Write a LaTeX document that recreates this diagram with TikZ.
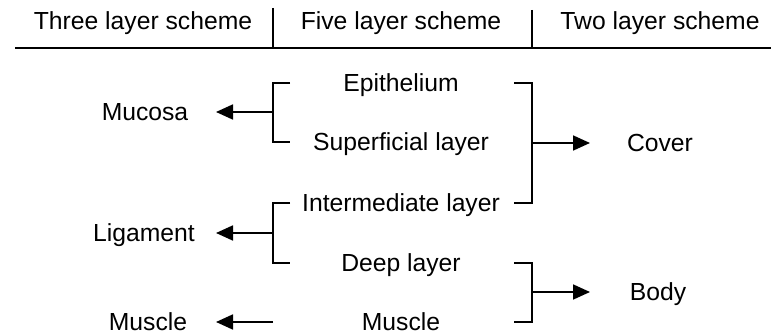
\documentclass[tikz,border=0pt]{standalone}
\usepackage{fontspec}
\setmainfont{Liberation Sans}
\usetikzlibrary{arrows.meta}
\begin{document}
\begin{tikzpicture}[x=1pt,y=-1pt,
  lbl/.style={inner sep=0pt,text height=17.5pt,text depth=0pt,font=\fontsize{24.7}{28}\selectfont},
  brk/.style={line width=1.8pt},
  arr/.style={line width=1.8pt,-{Triangle[length=17pt,width=15pt]}},
  rule/.style={line width=2pt},
  sep/.style={line width=1.3pt}]
\useasboundingbox (0,0) rectangle (771,336);
% headers
\node[lbl] (h3) at (143,21) {Three layer scheme};
\node[lbl] (h5) at (401,21) {Five layer scheme};
\node[lbl] (h2) at (660,21) {Two layer scheme};
\coordinate (r0) at (15,48);
\coordinate (r1) at (771,48);
\coordinate (s1t) at (273,8);
\coordinate (s2t) at (532,10);
\draw[rule] (r0) -- (r1);
\draw[sep] (s1t) -- (s1t |- r0);
\draw[sep] (s2t) -- (s2t |- r0);
% middle column
\node[lbl] (epi) at (401,83) {Epithelium};
\node[lbl] (sup) at (401,142) {Superficial layer};
\node[lbl] (int) at (401,203) {Intermediate layer};
\node[lbl] (deep) at (401,263) {Deep layer};
\node[lbl] (mus5) at (401,322) {Muscle};
% left column
\node[lbl] (muc) at (145,112) {Mucosa};
\node[lbl] (lig) at (144,233) {Ligament};
\node[lbl] (mus3) at (148,322) {Muscle};
% right column
\node[lbl] (cov) at (660,143) {Cover};
\node[lbl] (body) at (658,292) {Body};
% bracket guide coordinates
\coordinate (L) at (273,0);
\coordinate (Lt) at (290,0);
\coordinate (Ltip) at (216,0);
\coordinate (R) at (532,0);
\coordinate (Rt) at (514,0);
\coordinate (Rtip) at (590,0);
% left bracket 1
\draw[brk] (Lt |- epi) -- (L |- epi) -- (L |- sup) -- (Lt |- sup);
\draw[arr] (L |- muc) -- (Ltip |- muc);
% left bracket 2
\draw[brk] (Lt |- int) -- (L |- int) -- (L |- deep) -- (Lt |- deep);
\draw[arr] (L |- lig) -- (Ltip |- lig);
% muscle
\draw[arr] (L |- mus3) -- (Ltip |- mus3);
% right bracket 1
\draw[brk] (Rt |- epi) -- (R |- epi) -- (R |- int) -- (Rt |- int);
\draw[arr] (R |- cov) -- (Rtip |- cov);
% right bracket 2
\draw[brk] (Rt |- deep) -- (R |- deep) -- (R |- mus5) -- (Rt |- mus5);
\draw[arr] (R |- body) -- (Rtip |- body);
\end{tikzpicture}
\end{document}
